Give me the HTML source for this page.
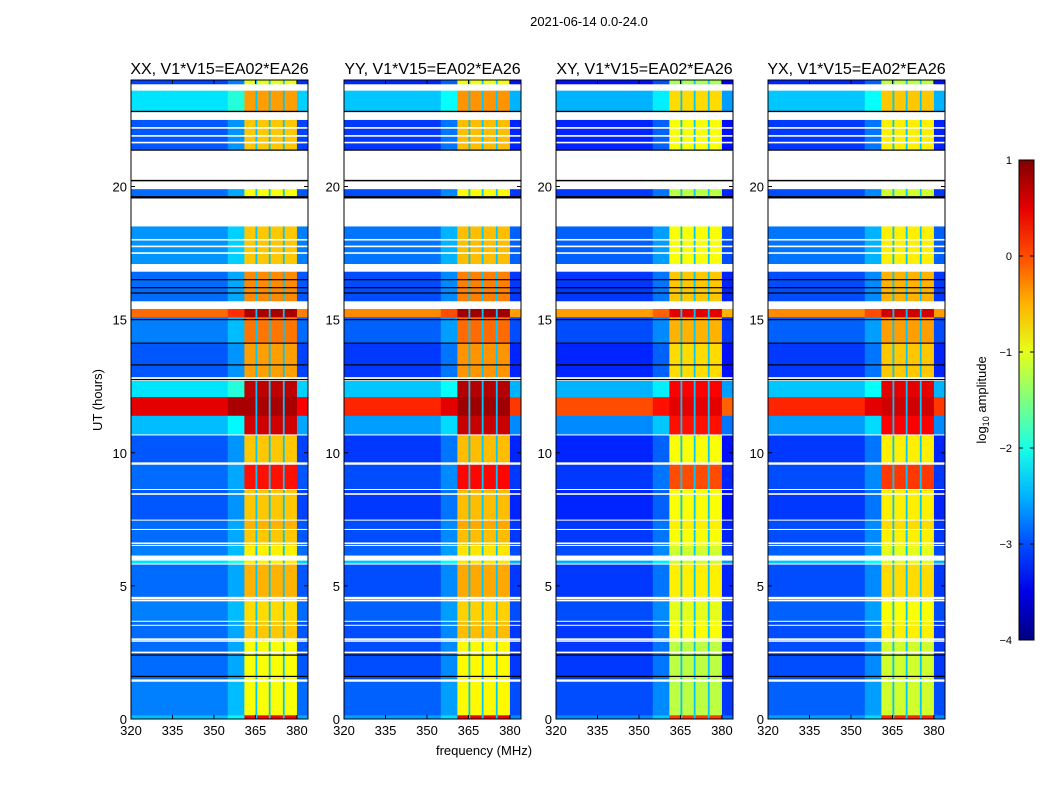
<!DOCTYPE html>
<html><head><meta charset="utf-8"><style>
body{margin:0;background:#fff;font-family:"Liberation Sans",sans-serif}
svg text{font-family:"Liberation Sans",sans-serif}
</style></head><body>
<svg id="c" width="1050" height="800" xmlns="http://www.w3.org/2000/svg"></svg>
<script>
// ---- data ----
const panelTitles=["XX, V1*V15=EA02*EA26","YY, V1*V15=EA02*EA26","XY, V1*V15=EA02*EA26","YX, V1*V15=EA02*EA26"];
const panelLefts=[131,344,556,768];
const panelBgOffset=[0.15,0,-0.1,0];
const panelBandOffset=[0,0.05,-0.3,-0.2];
const panelStripLevel=[0.5,0.2,0.0,0.2];
// time segments: start hour, end hour, type, background level, band level
const segStart=[0,0.15,1.4,1.5,2.9,2.97,3.5,3.55,3.65,3.7,4.5,4.6,5.8,5.85,5.95,6.15,6.5,6.55,7.1,7.15,7.45,7.5,8.6,8.65,9.55,9.65,10.65,10.7,11.4,12.1,12.7,12.85,14.1,14.15,15.1,15.4,15.7,16.8,17.1,18.5,19.55,19.65,19.9,20.2,20.25,21.35,21.4,22.5,22.8,22.85,23.6,23.85];
const segEnd=[0.15,1.4,1.5,2.9,2.97,3.5,3.55,3.65,3.7,4.5,4.6,5.8,5.85,5.95,6.15,6.5,6.55,7.1,7.15,7.45,7.5,8.6,8.65,9.55,9.65,10.65,10.7,11.4,12.1,12.7,12.85,14.1,14.15,15.1,15.4,15.7,16.8,17.1,18.5,19.55,19.65,19.9,20.2,20.25,21.35,21.4,22.5,22.8,22.85,23.6,23.85,24];
const segType=["d","d","w","d","w","d","w","d","w","d","w","d","w","d","w","d","w","d","w","d","w","d","w","d","w","d","w","d","s","d","w","d","k","d","d","w","d","w","d","w","k","d","w","k","w","k","d","w","k","d","w","d"];
const segBg=[-2.6,-2.9,0,-3.0,0,-3.0,0,-3.0,0,-2.9,0,-3.0,0,-2.4,0,-2.9,0,-3.0,0,-3.0,0,-3.1,0,-3.0,0,-3.1,0,-2.6,0.2,-2.4,0,-3.1,0,-2.9,-0.3,0,-3.0,0,-2.8,0,0,-3.0,0,0,0,0,-3.1,0,0,-2.4,0,-3.2];
const segBand=[0.4,-0.9,0,-0.9,0,-0.6,0,-0.6,0,-0.7,0,-0.5,0,-0.8,0,-0.8,0,-0.6,0,-0.5,0,-0.6,0,0.3,0,-0.6,0,0.6,0.8,0.7,0,-0.4,0,-0.2,0.8,0,-0.3,0,-0.6,0,0,-0.9,0,0,0,0,-0.6,0,0,-0.4,0,-1.0];
const whiteLines=[8.45,9.6,17.5,17.75,18.0,21.65,21.9,22.2,3.0,2.5,4.45,6.6];
const blackLines=[1.6,2.4,13.3,16.2,16.5,16.0,22.82,12.75,15.0];
const xTicks=[320,335,350,365,380];
const yTicks=[0,5,10,15,20];
const cbTicks=[1,0,-1,-2,-3,-4];
const dividers=[365.3,370.1,375.2];
// ---- drawing ----
const NS="http://www.w3.org/2000/svg";const svg=document.getElementById('c');
function el(t,a,p){const e=document.createElementNS(NS,t);for(const k in a)e.setAttribute(k,a[k]);(p||svg).appendChild(e);return e;}
function jet(v){let t=(v+4)/5;t=Math.max(0,Math.min(1,t));
 const r=Math.max(0,Math.min(1,Math.min(4*t-1.5,-4*t+4.5)));
 const g=Math.max(0,Math.min(1,Math.min(4*t-0.5,-4*t+3.5)));
 const b=Math.max(0,Math.min(1,Math.min(4*t+0.5,-4*t+2.5)));
 return `rgb(${Math.round(r*255)},${Math.round(g*255)},${Math.round(b*255)})`;}
const T=80,B=719,W=177;
const yS=h=>B-(h/24)*(B-T);
const t0=el('text',{x:589,y:26,'font-size':13,'text-anchor':'middle'});t0.textContent="2021-06-14 0.0-24.0";

panelLefts.forEach((L,p)=>{
 const xS=f=>L+(f-320)/64*W;
 const g=el('g',{});
 
 
 for(let i=0;i<segStart.length;i++){
  const y1=yS(segEnd[i]),y2=yS(segStart[i]),h=y2-y1;const ty=segType[i];
  if(ty==='w'){continue;}
  if(ty==='k'){const r=el('rect',{x:L,y:y1,width:W,height:Math.max(h,1.5),fill:'#000'},g);continue;}
  let bg=segBg[i]+panelBgOffset[p];
  if(ty==='s')bg=panelStripLevel[p];
  const bd=segBand[i]+panelBandOffset[p];
  const parts=[[320,355,bg],[355,361,bg+0.3],[361,380,bd],[380,384,bg-0.1]];
  parts.forEach(q=>{const r=el('rect',{x:xS(q[0]),y:y1,width:xS(q[1])-xS(q[0])+0.3,height:h+0.3,fill:jet(q[2])},g);
   });
  dividers.forEach(d=>{const r=el('rect',{x:xS(d)-0.8,y:y1,width:1.8,height:h+0.3,fill:jet(-2.4)},g);
   });
 }
 whiteLines.forEach(hh=>{const r=el('rect',{x:L,y:yS(hh)-0.8,width:W,height:1.6,fill:'#fff'},g);});
 blackLines.forEach(hh=>{const r=el('rect',{x:L,y:yS(hh)-0.6,width:W,height:1.2,fill:'#000'},g);});
 const fr=el('rect',{x:L,y:T,width:W,height:B-T,fill:'none',stroke:'#000','stroke-width':1},g);
 
 xTicks.forEach(v=>{const x=xS(v);el('line',{x1:x,x2:x,y1:B,y2:B-4,stroke:'#000'},g);el('line',{x1:x,x2:x,y1:T,y2:T+4,stroke:'#000'},g);
  const t=el('text',{x:x,y:B+16,'font-size':13,'text-anchor':'middle'},g);t.textContent=v;
  });
 yTicks.forEach(v=>{const y=yS(v);el('line',{x1:L,x2:L+4,y1:y,y2:y,stroke:'#000'},g);el('line',{x1:L+W,x2:L+W-4,y1:y,y2:y,stroke:'#000'},g);
  const t=el('text',{x:L-4,y:y+5,'font-size':13,'text-anchor':'end'},g);t.textContent=v;
  });
 const tt=el('text',{x:L+W/2,y:74,'font-size':16,'text-anchor':'middle'},g);tt.textContent=panelTitles[p];
 
});
const xl=el('text',{x:484,y:755,'font-size':13,'text-anchor':'middle'});xl.textContent="frequency (MHz)";

const yl=el('text',{x:0,y:0,'font-size':13,'text-anchor':'middle',transform:'translate(102,400) rotate(-90)'});yl.textContent="UT (hours)";

// colorbar
const CT=160,CB=640,CX=1019,CW=15;
const defs=el('defs',{});const lg=el('linearGradient',{id:'jg',x1:0,y1:1,x2:0,y2:0},defs);
for(let i=0;i<=10;i++){el('stop',{offset:i/10,'stop-color':jet(-4+i/2)},lg);}
const cb=el('rect',{x:CX,y:CT,width:CW,height:CB-CT,fill:'url(#jg)',stroke:'#000'});

cbTicks.forEach(v=>{const y=CB-(v+4)/5*(CB-CT);el('line',{x1:CX,x2:CX+4,y1:y,y2:y,stroke:'#000'});el('line',{x1:CX+CW,x2:CX+CW-4,y1:y,y2:y,stroke:'#000'});
 const t=el('text',{x:1012,y:y+4,'font-size':11,'text-anchor':'end'});t.textContent=v<0?'\u2212'+(-v):v;
 });
const cl=el('text',{x:0,y:0,'font-size':13,'text-anchor':'middle',transform:'translate(986,400) rotate(-90)'});
cl.innerHTML='log<tspan font-size="9" dy="3">10</tspan><tspan dy="-3"> amplitude</tspan>';

</script>
</body></html>
